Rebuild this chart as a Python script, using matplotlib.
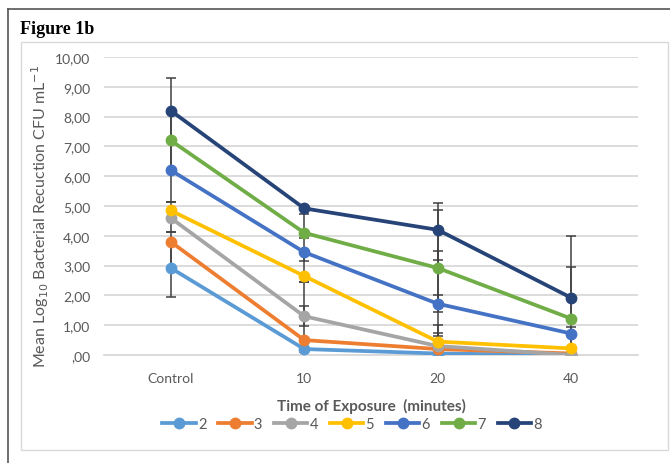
"""Figure 1b: mean log10 bacterial reduction by time of exposure."""

import matplotlib
matplotlib.use("Agg")
import matplotlib.pyplot as plt
from matplotlib.patches import Rectangle

categories = ["Control", "10", "20", "40"]
series_names = ["2", "3", "4", "5", "6", "7", "8"]

s2 = [2.92, 0.20, 0.05, 0.00]
s3 = [3.80, 0.50, 0.20, 0.05]
s4 = [4.60, 1.30, 0.30, 0.00]
s5 = [4.85, 2.65, 0.45, 0.22]
s6 = [6.20, 3.45, 1.72, 0.72]
s7 = [7.20, 4.10, 2.92, 1.22]
s8 = [8.20, 4.92, 4.20, 1.92]

# error bars (lower, upper)
lo2 = [0.97, 0.10, 0.05, 0.00]
up2 = [0.88, 0.30, 0.59, 0.00]
lo3 = [0.88, 0.30, 0.15, 0.05]
up3 = [0.33, 1.15, 0.54, 0.00]
lo4 = [0.47, 0.33, 0.25, 0.00]
up4 = [0.25, 1.15, 1.70, 0.00]
lo5 = [0.25, 0.20, 0.25, 0.22]
up5 = [0.30, 0.80, 0.55, 0.50]
lo6 = [1.05, 0.30, 0.28, 0.50]
up6 = [1.00, 0.65, 1.77, 0.22]
lo7 = [1.00, 0.17, 1.20, 0.50]
up7 = [1.00, 0.82, 1.95, 1.73]
lo8 = [1.00, 0.19, 1.01, 0.70]
up8 = [1.10, 0.00, 0.90, 2.08]

values = [s2, s3, s4, s5, s6, s7, s8]
lowers = [lo2, lo3, lo4, lo5, lo6, lo7, lo8]
uppers = [up2, up3, up4, up5, up6, up7, up8]
colors = ["#5B9BD5", "#ED7D31", "#A5A5A5", "#FFC000", "#4472C4", "#70AD47", "#264478"]

TEXT = "#595959"
GRID = "#D9D9D9"
FONT = ["Lato", "DejaVu Sans"]

fig = plt.figure(figsize=(6.7, 4.64), dpi=100)
fig.patch.set_facecolor("white")

# outer page border (top + left) and inner chart frame
fig.add_artist(plt.Line2D([8 / 670, 1.0], [1 - 10 / 464] * 2, color="#555555", lw=1.2))
fig.add_artist(plt.Line2D([8 / 670] * 2, [0, 1 - 10 / 464], color="#555555", lw=1.2))
fig.add_artist(Rectangle((21 / 670, 1 - 451 / 464), (668 - 21) / 670, (451 - 43) / 464,
                         transform=fig.transFigure, fill=False, ec=GRID, lw=1.0))
fig.text(20 / 670, 1 - 30 / 464, "Figure 1b", family="Liberation Serif",
         weight="bold", fontsize=13, va="center", ha="left", color="black")

ax = fig.add_axes([104 / 670, 1 - 356 / 464, (638 - 104) / 670, (356 - 58) / 464])
x = list(range(len(categories)))
# error bars first, then the lines and markers on top of them
for vals, lo, up in zip(values, lowers, uppers):
    ax.errorbar(x, vals, yerr=[lo, up], fmt="none", ecolor="#404040",
                elinewidth=1.1, capsize=3.5, capthick=1.1, zorder=2)
for name, vals, col in zip(series_names, values, colors):
    ax.plot(x, vals, color=col, lw=2.7, marker="o", ms=7.5, label=name, zorder=3)

ax.set_xlim(-0.5, 3.5)
ax.set_ylim(0, 10)
ax.set_yticks(range(0, 11))
ax.set_yticklabels([",00"] + [f"{v},00" for v in range(1, 11)])
ax.set_xticks(x)
ax.set_xticklabels(categories)
ax.grid(axis="y", color=GRID, lw=1.3)
ax.set_axisbelow(True)
for sp in ("top", "right", "left"):
    ax.spines[sp].set_visible(False)
ax.spines["bottom"].set_color(GRID)
ax.spines["bottom"].set_linewidth(1.3)
ax.tick_params(length=0, colors=TEXT, labelsize=10, pad=10)
ax.tick_params(axis="x", pad=12)
for lab in ax.get_xticklabels() + ax.get_yticklabels():
    lab.set_family(FONT)

ax.set_xlabel("Time of Exposure  (minutes)", family=FONT, weight="bold",
              fontsize=11, color=TEXT, labelpad=10)
ax.set_ylabel("Mean Log$_{10}$ Bacterial Recuction CFU mL$^{-1}$", family=FONT,
              fontsize=11.5, color=TEXT)
ax.yaxis.set_label_coords(-0.10, 0.47)

handles = [plt.Line2D([], [], color=c, lw=2.7, marker="o", ms=7.5) for c in colors]
leg = fig.legend(handles, series_names, loc="center", ncol=7,
                 bbox_to_anchor=(352 / 670, 1 - 425 / 464), frameon=False,
                 handlelength=2.3, handletextpad=0.15, columnspacing=0.8,
                 prop={"family": FONT, "size": 10.5})
for t in leg.get_texts():
    t.set_color(TEXT)

fig.savefig("out.png", dpi=100, facecolor="white")
